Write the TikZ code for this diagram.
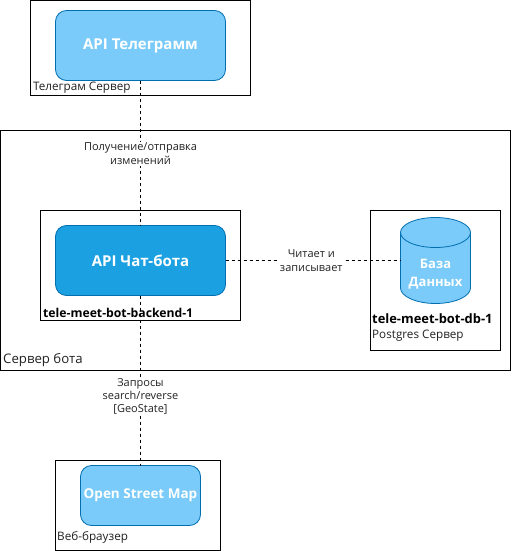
\documentclass[tikz,border=0pt]{standalone}
\usepackage{fontspec}
\setmainfont{Open Sans}
\definecolor{lightblue}{HTML}{7ACBF9}
\definecolor{darkblue}{HTML}{1BA1E2}
\definecolor{edgeblue}{HTML}{006EAF}
\definecolor{labelgrey}{HTML}{222222}
\tikzset{
  x=1pt,y=-1pt,
  framebox/.style={draw=black,line width=1pt,fill=white,anchor=north west,inner sep=0pt,outer sep=0pt},
  api/.style={draw=edgeblue,line width=0.8pt,fill=lightblue,rounded corners=11pt,text=white,font=\fontsize{15}{17}\selectfont\bfseries,inner sep=0pt,outer sep=0pt},
  conn/.style={draw=black,line width=0.8pt,dash pattern=on 3pt off 3pt},
  edgelabel/.style={fill=white,align=center,text=labelgrey,font=\fontsize{11}{14}\selectfont,inner sep=1pt},
  boxlabel/.style={anchor=west,text=labelgrey,inner sep=0pt,font=\fontsize{11.7}{14}\selectfont},
  tag/.style={anchor=west,text=black,inner sep=0pt,font=\fontsize{12.2}{14}\selectfont\bfseries},
  dbbody/.style={draw=edgeblue,line width=0.8pt,fill=lightblue},
}
\begin{document}
\begin{tikzpicture}
\useasboundingbox (0,0) rectangle (511,551);
\fill[white] (0,0) rectangle (511,551);
\node[framebox,minimum width=219.5pt,minimum height=95pt] (tgbox) at (30.5,0.5) {};
\node[framebox,minimum width=510pt,minimum height=240pt] (srv) at (0.5,130.5) {};
\node[framebox,minimum width=200pt,minimum height=110pt] (backbox) at (40.5,210.5) {};
\node[framebox,minimum width=130pt,minimum height=140pt] (dbbox) at (370.5,210.5) {};
\node[framebox,minimum width=165pt,minimum height=90pt] (webbox) at (55.5,460.5) {};

\node[api,minimum width=170pt,minimum height=70pt,text depth=3pt] (tg) at (140.5,45.5) {API Телеграмм};
\node[api,fill=darkblue,minimum width=170pt,minimum height=70pt] (bot) at (140.5,260.5) {\raisebox{-1pt}{API Чат-бота}};
\node[api,minimum width=120pt,minimum height=60pt,font=\fontsize{13.5}{16}\selectfont\bfseries] (osm) at (140.5,495.5) {Open Street Map};

\draw[dbbody] (400.5,232) -- (400.5,288) .. controls (400.5,296.3) and (416,303.5) .. (435.5,303.5) .. controls (455,303.5) and (470.5,296.3) .. (470.5,288) -- (470.5,232) -- cycle;
\draw[dbbody] (435.5,232.5) ellipse [x radius=35pt,y radius=15pt];
\node[inner sep=0pt,outer sep=0pt,minimum width=70pt,minimum height=86pt] (db) at (435.5,260.5) {};
\node[inner sep=0pt,align=center,text=white,font=\fontsize{13}{18}\selectfont\bfseries] (dbtext) at (435.5,274) {База\\Данных};

\draw[conn] (tg) -- node[edgelabel,pos=0.507] (l1) {Получение/отправка\\изменений} (bot);
\draw[conn] (bot) -- node[edgelabel,pos=0.49] (l2) {Читает и\\записывает} (db.west);
\draw[conn] (bot) -- node[edgelabel,pos=0.591,font=\fontsize{11}{13}\selectfont] (l3) {Запросы\\search/reverse\\{[GeoState]}} (osm);

\node[boxlabel] (t1) at (33,88) {Телеграм Сервер};
\node[boxlabel,font=\fontsize{13.2}{15}\selectfont] (t2) at (3,360) {Сервер бота};
\node[tag] (t3) at (43,313) {tele-meet-bot-backend-1};
\node[tag,font=\fontsize{12.9}{14}\selectfont\bfseries] (t4) at (372,319) {tele-meet-bot-db-1};
\node[boxlabel] (t5) at (372,336) {Postgres Сервер};
\node[boxlabel] (t6) at (57,537) {Веб-браузер};
\end{tikzpicture}
\end{document}
